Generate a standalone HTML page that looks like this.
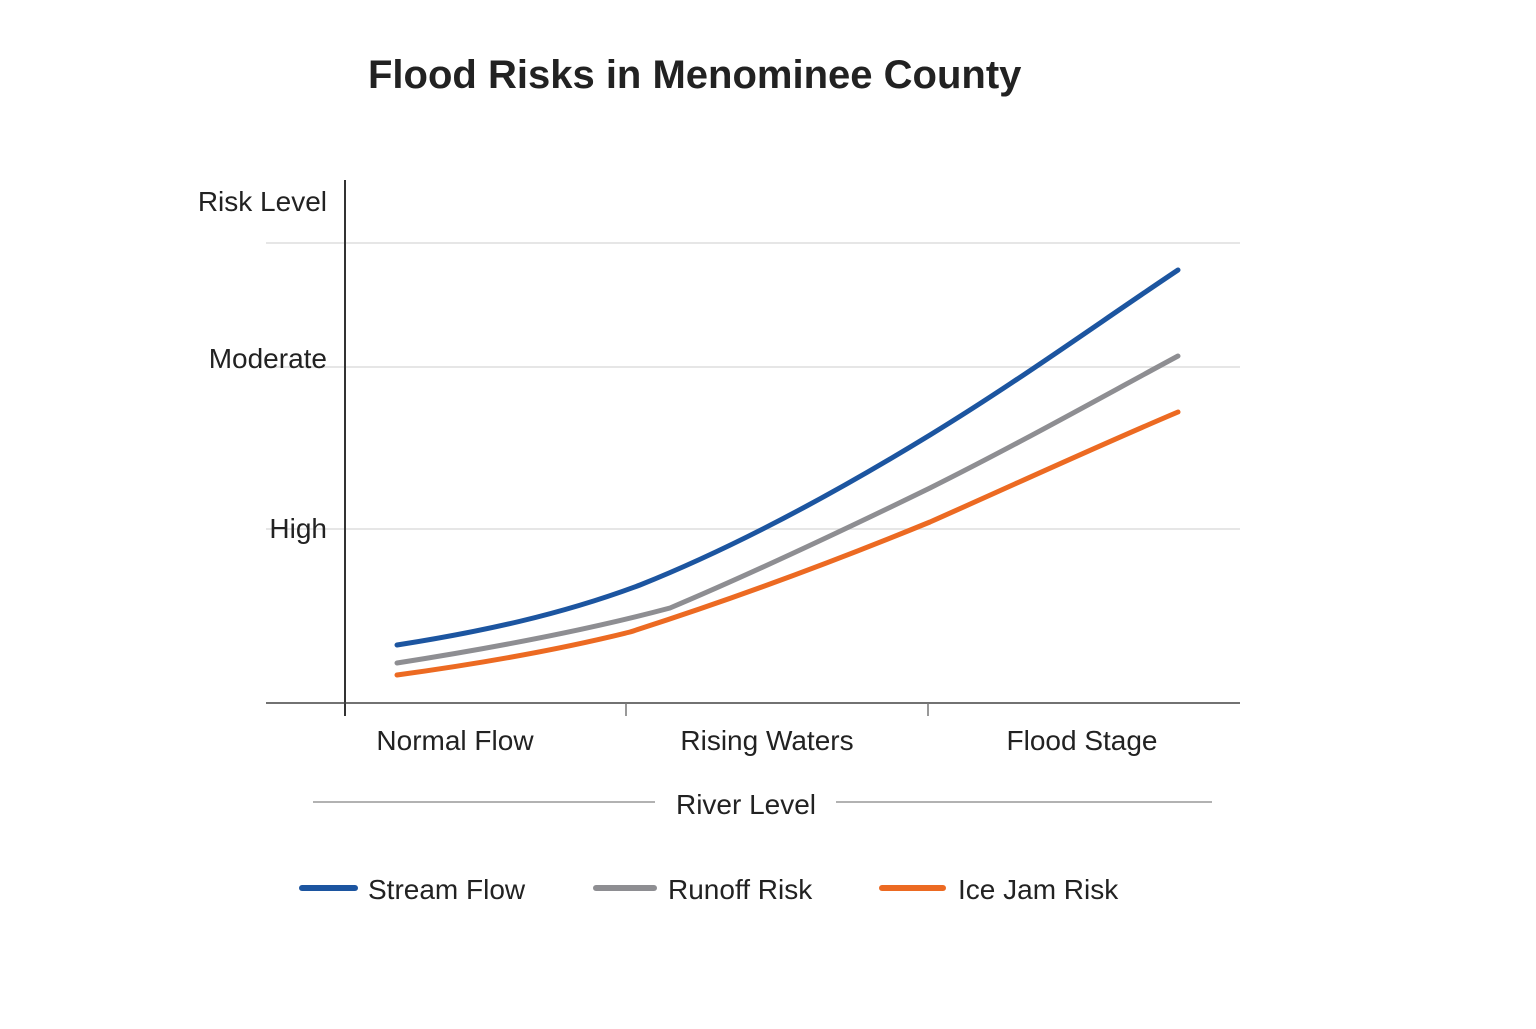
<!DOCTYPE html>
<html><head><meta charset="utf-8"><style>
html,body{margin:0;padding:0;background:#fff;}
svg text{font-family:"Liberation Sans",sans-serif;fill:#222;}
</style></head><body>
<svg width="1536" height="1024" viewBox="0 0 1536 1024" xmlns="http://www.w3.org/2000/svg">
<text x="368" y="88" font-size="40" font-weight="bold" fill="#222">Flood Risks in Menominee County</text>
<g stroke="#ddd" stroke-width="1.5">
<line x1="266" y1="243" x2="1240" y2="243"/>
<line x1="266" y1="367" x2="1240" y2="367"/>
<line x1="266" y1="529" x2="1240" y2="529"/>
</g>
<line x1="345" y1="180" x2="345" y2="716" stroke="#333" stroke-width="2"/>
<line x1="266" y1="703" x2="1240" y2="703" stroke="#444" stroke-width="1.5"/>
<line x1="626" y1="703" x2="626" y2="716" stroke="#777" stroke-width="1.5"/>
<line x1="928" y1="703" x2="928" y2="716" stroke="#777" stroke-width="1.5"/>
<g font-size="28" text-anchor="end">
<text x="327" y="211">Risk Level</text>
<text x="327" y="368">Moderate</text>
<text x="327" y="538">High</text>
</g>
<g font-size="28" text-anchor="middle">
<text x="455" y="750">Normal Flow</text>
<text x="767" y="750">Rising Waters</text>
<text x="1082" y="750">Flood Stage</text>
<text x="746" y="814">River Level</text>
</g>
<line x1="313" y1="802" x2="655" y2="802" stroke="#999" stroke-width="1.5"/>
<line x1="836" y1="802" x2="1212" y2="802" stroke="#999" stroke-width="1.5"/>
<g fill="none" stroke-width="5" stroke-linecap="round">
<path d="M397,645 C480,632 560,615 640,585 C740,545 840,490 930,435 C1020,380 1100,322 1178,270" stroke="#1c55a0"/>
<path d="M397,663 C480,650 580,632 670,608 C760,570 850,527 930,488 C1020,443 1100,398 1178,356" stroke="#8e8e92"/>
<path d="M397,675 C470,665 550,652 630,632 C730,600 830,563 930,522 C1020,482 1100,445 1178,412" stroke="#ec6a22"/>
</g>
<g stroke-width="6" stroke-linecap="round">
<line x1="302" y1="888" x2="355" y2="888" stroke="#1c55a0"/>
<line x1="596" y1="888" x2="654" y2="888" stroke="#8e8e92"/>
<line x1="882" y1="888" x2="943" y2="888" stroke="#ec6a22"/>
</g>
<g font-size="28">
<text x="368" y="899">Stream Flow</text>
<text x="668" y="899">Runoff Risk</text>
<text x="958" y="899">Ice Jam Risk</text>
</g>
</svg>
</body></html>
